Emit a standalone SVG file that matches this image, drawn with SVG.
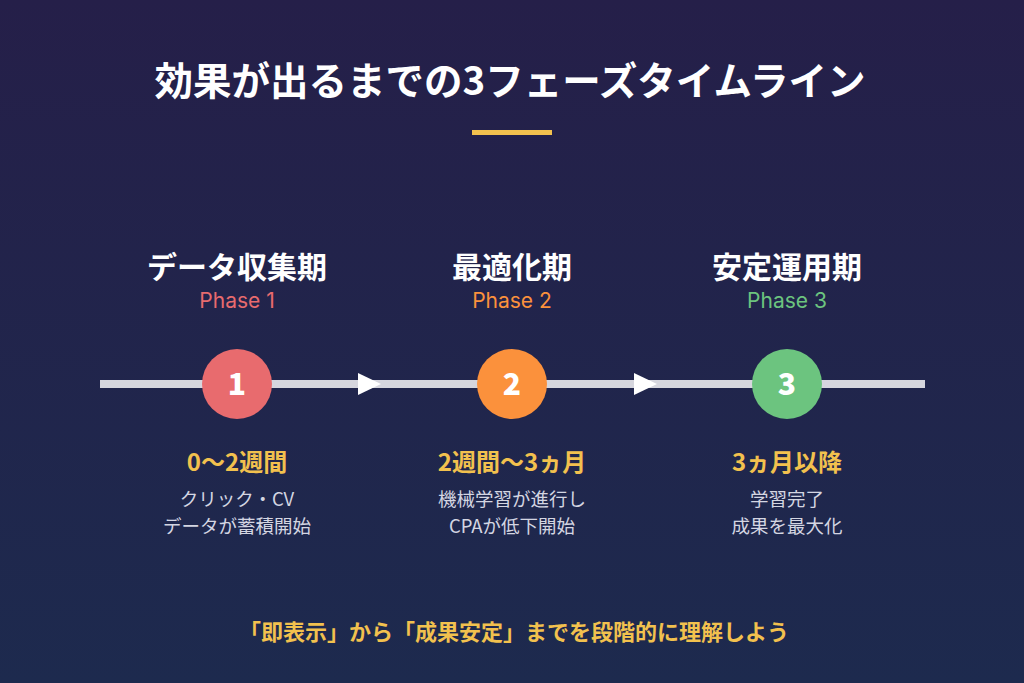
<svg xmlns="http://www.w3.org/2000/svg" width="1024" height="683" viewBox="0 0 1024 683">
<defs>
<linearGradient id="bg" x1="0" y1="0" x2="0" y2="1"><stop offset="0" stop-color="#251f49"/><stop offset="1" stop-color="#1d2a4e"/></linearGradient>
<style>
text{font-family:"Noto Sans CJK JP","Noto Sans",sans-serif;text-anchor:middle}
.t{fill:#fff;font-size:38.5px;font-weight:700}
.h{fill:#fff;font-size:30px;font-weight:700}
.p{font-size:21px;font-family:Inter,"Noto Sans",sans-serif}
.n{fill:#fff;font-size:30px;font-weight:900}
.d{fill:#f2c14e;font-size:24px;font-weight:700}
.s{fill:#d4d6e2;font-size:18.5px}
.f{fill:#f2c14e;font-size:22px;font-weight:700}
</style>
</defs>
<rect width="1024" height="683" fill="url(#bg)"/>
<text class="t" x="510" y="95">効果が出るまでの3フェーズタイムライン</text>
<rect x="472" y="130" width="80" height="5" fill="#f2c14e"/>
<g id="connectors">
<rect x="100" y="380" width="825" height="8" fill="#d6d6de"/>
<polygon points="358,373 381,384 358,395" fill="#fff"/>
<polygon points="634,373 657,384 634,395" fill="#fff"/>
</g>
<g id="phase1">
<text class="h" x="237" y="278">データ収集期</text>
<text class="p" x="237" y="308" fill="#e86b6e">Phase 1</text>
<circle cx="237" cy="384" r="35" fill="#e86b6e"/>
<text class="n" x="237" y="395">1</text>
<text class="d" x="237" y="471">0〜2週間</text>
<text class="s" x="237" y="506">クリック・CV</text>
<text class="s" x="237" y="533">データが蓄積開始</text>
</g>
<g id="phase2">
<text class="h" x="512" y="278">最適化期</text>
<text class="p" x="512" y="308" fill="#fb913c">Phase 2</text>
<circle cx="512" cy="384" r="35" fill="#fb913c"/>
<text class="n" x="512" y="395">2</text>
<text class="d" x="512" y="471">2週間〜3ヵ月</text>
<text class="s" x="512" y="506">機械学習が進行し</text>
<text class="s" x="512" y="533">CPAが低下開始</text>
</g>
<g id="phase3">
<text class="h" x="787" y="278">安定運用期</text>
<text class="p" x="787" y="308" fill="#6cc47f">Phase 3</text>
<circle cx="787" cy="384" r="35" fill="#6cc47f"/>
<text class="n" x="787" y="395">3</text>
<text class="d" x="787" y="471">3ヵ月以降</text>
<text class="s" x="787" y="506">学習完了</text>
<text class="s" x="787" y="533">成果を最大化</text>
</g>
<text class="f" x="514" y="640">「即表示」から「成果安定」までを段階的に理解しよう</text>
</svg>
